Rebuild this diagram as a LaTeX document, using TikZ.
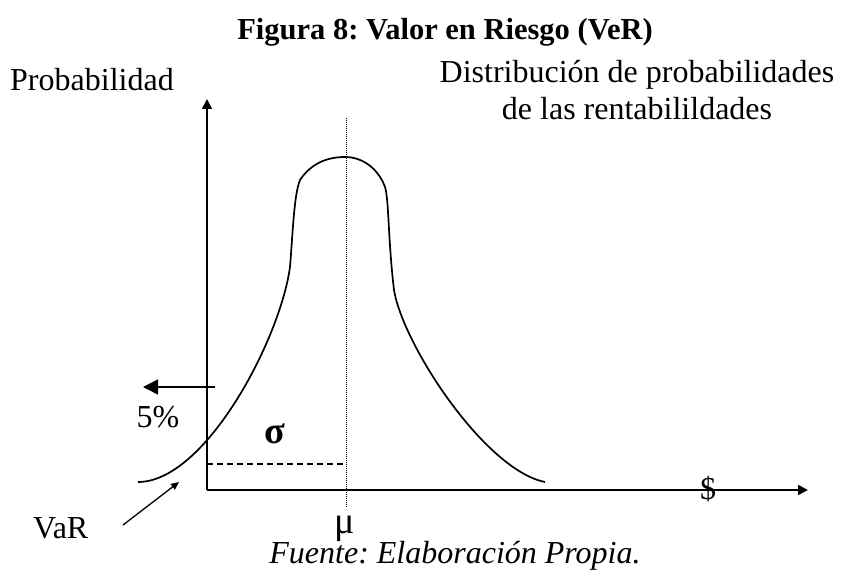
\documentclass[tikz,border=0pt]{standalone}
\usepackage{fontspec}
\setmainfont{Liberation Serif}
\usetikzlibrary{arrows.meta}
\frenchspacing
\begin{document}
\begin{tikzpicture}[x=1pt,y=-1pt,
  txt/.style={inner sep=0pt, font=\fontsize{32}{38}\selectfont},
  axis/.style={line width=1.8pt, -{Triangle[length=10pt,width=10pt]}},
  curve/.style={line width=1.7pt, line join=round},
  bigarrow/.style={line width=1.5pt, -{Triangle[length=15pt,width=15pt]}},
  smallarrow/.style={line width=1.3pt, -{Triangle[length=8pt,width=7pt]}},
  meanline/.style={line width=1pt, dash pattern=on 1pt off 1pt},
  sigmaline/.style={line width=1.5pt, dash pattern=on 6pt off 4pt}]
\useasboundingbox (0,0) rectangle (842,585);

% titles and texts
\node[txt, font=\bfseries\fontsize{30.5}{36}\selectfont, anchor=base] (title) at (445,40) {Figura 8: Valor en Riesgo (VeR)};
\node[txt, anchor=base west] (prob) at (10,91) {Probabilidad};
\node[txt, anchor=base] (dist1) at (637,83) {Distribución de probabilidades};
\node[txt, anchor=base] (dist2) at (637,120) {de las rentabilildades};
\node[txt, anchor=base] (pct) at (158,427) {5\%};
\node[txt, font=\bfseries\fontsize{38}{40}\selectfont, anchor=base] (sig) at (275,443) {σ};
\node[txt, font=\fontsize{38}{40}\selectfont, anchor=base] (mu) at (345,533) {μ};
\node[txt, anchor=base west] (var) at (33,538) {VaR};
\node[txt, anchor=base] (dol) at (708,499) {\$};
\node[txt, font=\itshape\fontsize{32}{38}\selectfont, anchor=base] (src) at (455,563) {Fuente: Elaboración Propia.};

% coordinates
\coordinate (O) at (207,490);
\coordinate (ytop) at (207,99);
\coordinate (xend) at (808,490);
\coordinate (mutop) at (346,118);
\coordinate (mubot) at (346,507);
\coordinate (dashL) at (207,464);
\coordinate (dashR) at (343,464);
\coordinate (arrS) at (215,387);
\coordinate (arrE) at (143,387);
\coordinate (varS) at (123,525);
\coordinate (varE) at (179,482);

% axes
\draw[axis] (O) -- (ytop);
\draw[axis] (O) -- (xend);

% mean and sigma lines
\draw[meanline] (mutop) -- (mubot);
\draw[sigmaline] (dashL) -- (dashR);

% arrows
\draw[bigarrow] (arrS) -- (arrE);
\draw[smallarrow] (varS) -- (varE);

% distribution curve
\draw[curve] (138,482)
  .. controls (205,482) and (280,340) .. (290,267)
  .. controls (293,230) and (294,195) .. (300,180)
  .. controls (310,165) and (325,157) .. (345,157)
  .. controls (362,157) and (378,168) .. (385,187)
  .. controls (389,200) and (388,240) .. (394,290)
  .. controls (403,345) and (485,470) .. (545,482);
\end{tikzpicture}
\end{document}
